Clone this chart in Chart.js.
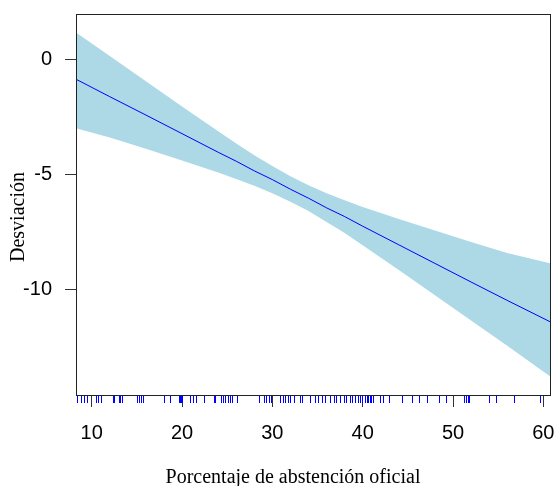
<!DOCTYPE html>
<html>
<head>
<meta charset="utf-8">
<script src="https://cdn.jsdelivr.net/npm/chart.js@4"></script>
<style>
  html, body { margin: 0; padding: 0; background: #fff; }
  #wrap { width: 556px; height: 486px; }
</style>
</head>
<body>
<div id="wrap"><canvas id="graficoAbstencion"></canvas></div>
<script>
// Valores de abstención donde se evalúa el ajuste y su banda de confianza
const abstencion = [8.26, 12, 16, 20, 24, 26, 28, 30, 32, 34, 36, 38, 40, 44, 48, 52, 56, 60.85];
// Recta ajustada (desviación)
const ajuste = [-0.84, -1.6, -2.4, -3.21, -4.02, -4.41, -4.83, -5.21, -5.63, -6.02, -6.44, -6.82, -7.24, -8.05, -8.86, -9.67, -10.47, -11.42];
// Límites superior e inferior de la banda
const limiteSup = [1.19, 0.17, -0.93, -2.03, -3.11, -3.64, -4.15, -4.62, -5.07, -5.46, -5.8, -6.11, -6.4, -6.93, -7.43, -7.93, -8.41, -8.86];
const limiteInf = [-2.97, -3.38, -3.87, -4.38, -4.9, -5.18, -5.48, -5.8, -6.17, -6.58, -7.06, -7.54, -8.07, -9.15, -10.25, -11.35, -12.45, -13.81];

// Observaciones individuales (rug en el eje x)
const observaciones = [
  8.36, 8.78, 9.17, 9.47, 10.5, 10.72, 11.0, 12.35, 12.49, 12.97, 13.16, 13.34,
  15.0, 15.18, 15.45, 15.67, 18.03, 18.62, 19.63, 19.75, 19.86, 19.97,
  20.91, 21.18, 21.57, 22.38, 23.49, 23.68, 24.31, 24.53, 24.78, 25.04, 25.26, 25.53, 26.08,
  28.47, 29.1, 29.33, 29.58, 29.85, 30.87, 31.17, 31.43, 31.68, 31.98, 32.35, 33.09, 33.28,
  34.2, 34.75, 35.0, 35.49, 35.86, 36.33, 36.78, 37.08, 37.44, 37.88, 38.18, 38.55, 38.82,
  39.18, 39.44, 39.66, 39.92, 40.29, 40.45, 40.62, 40.79, 40.95, 41.12, 41.95, 42.25, 42.87,
  44.35, 45.46, 46.19, 47.12, 48.41, 49.26, 51.2, 51.42, 51.64, 51.81, 53.94, 54.8, 56.79, 59.67
];

// Marcas de los ejes
const marcasX = [10, 20, 30, 40, 50, 60];
const marcasY = [0, -5, -10];

const tituloX = 'Porcentaje de abstención oficial';
const tituloY = 'Desviación';

const puntos = (ys) => abstencion.map((x, i) => ({ x: x, y: ys[i] }));

const fuenteSerif = '20px "Liberation Serif", "Times New Roman", serif';

// Caja alrededor del panel, rug y títulos de los ejes
const decoracion = {
  id: 'decoracion',
  afterDatasetsDraw(chart) {
    const { ctx, chartArea: a, scales } = chart;
    ctx.save();
    // rug
    ctx.strokeStyle = '#0000ff';
    ctx.lineWidth = 1;
    ctx.beginPath();
    observaciones.forEach(v => {
      const px = Math.round(scales.x.getPixelForValue(v)) + 0.5;
      ctx.moveTo(px, a.bottom);
      ctx.lineTo(px, a.bottom + 8);
    });
    ctx.stroke();
    // caja
    ctx.strokeStyle = '#222';
    ctx.strokeRect(a.left + 0.5, a.top + 0.5, a.right - a.left - 1, a.bottom - a.top);
    // títulos
    ctx.fillStyle = '#000';
    ctx.font = fuenteSerif;
    ctx.textAlign = 'center';
    ctx.textBaseline = 'alphabetic';
    ctx.fillText(tituloX, 293, 483);
    ctx.translate(23.5, 217);
    ctx.rotate(-Math.PI / 2);
    ctx.fillText(tituloY, 0, 0);
    ctx.restore();
  }
};

const ctx = document.getElementById('graficoAbstencion').getContext('2d');

new Chart(ctx, {
  type: 'scatter',
  data: {
    datasets: [
      {
        label: 'Límite superior',
        data: puntos(limiteSup),
        showLine: true,
        borderWidth: 0,
        borderColor: 'rgba(0,0,0,0)',
        backgroundColor: '#add8e6',
        pointRadius: 0,
        fill: '+1'
      },
      {
        label: 'Límite inferior',
        data: puntos(limiteInf),
        showLine: true,
        borderWidth: 0,
        borderColor: 'rgba(0,0,0,0)',
        pointRadius: 0,
        fill: false
      },
      {
        label: 'Ajuste',
        data: puntos(ajuste),
        showLine: true,
        borderColor: '#0000ff',
        borderWidth: 1,
        pointRadius: 0,
        fill: false,
        order: -1
      }
    ]
  },
  options: {
    responsive: true,
    maintainAspectRatio: false,
    animation: false,
    layout: { padding: { top: 14, right: 5, left: 0, bottom: 0 } },
    plugins: {
      legend: { display: false },
      tooltip: { enabled: false },
      filler: { propagate: false }
    },
    scales: {
      x: {
        type: 'linear',
        min: 8.26,
        max: 60.85,
        afterFit: (s) => { s.height = 91; s.paddingLeft = 0; s.paddingRight = 0; },
        afterBuildTicks: (s) => { s.ticks = marcasX.map(v => ({ value: v })); },
        border: { display: false },
        grid: { drawOnChartArea: false, tickLength: 12, tickColor: '#333', tickWidth: 1 },
        ticks: {
          color: '#000',
          padding: 14,
          maxRotation: 0,
          autoSkip: false,
          font: { family: '"Liberation Sans", Arial, sans-serif', size: 20 }
        },
        title: { display: false }
      },
      y: {
        min: -14.59,
        max: 2.0,
        afterFit: (s) => { s.width = 76; s.paddingTop = 0; s.paddingBottom = 0; },
        afterBuildTicks: (s) => { s.ticks = marcasY.map(v => ({ value: v })); },
        border: { display: false },
        grid: { drawOnChartArea: false, tickLength: 11, tickColor: '#333', tickWidth: 1 },
        ticks: {
          color: '#000',
          padding: 13,
          autoSkip: false,
          font: { family: '"Liberation Sans", Arial, sans-serif', size: 20 }
        },
        title: { display: false }
      }
    }
  },
  plugins: [decoracion]
});
</script>
</body>
</html>
